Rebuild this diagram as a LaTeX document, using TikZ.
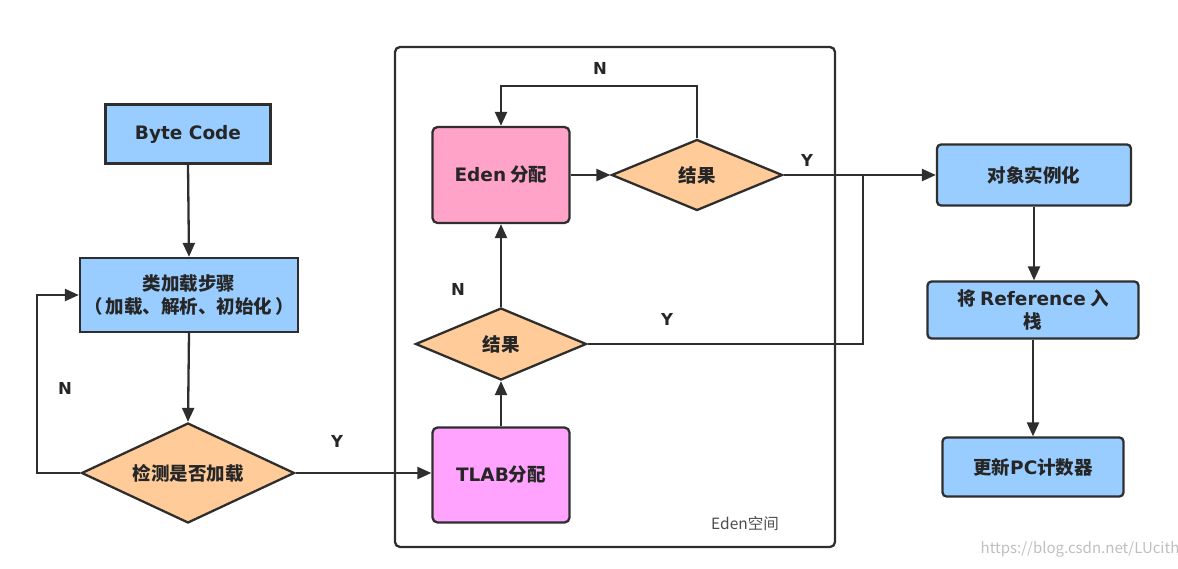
\documentclass[tikz,border=0pt]{standalone}
\usepackage{fontspec}
\setmainfont{Noto Sans CJK SC}
\newfontfamily\latfont{DejaVu Sans}
\newcommand\lat[1]{{\latfont\bfseries\fontsize{18.5}{23}\selectfont #1}}
\usetikzlibrary{shapes.geometric,arrows.meta}
\definecolor{bluebox}{HTML}{99CCFF}
\definecolor{orangebox}{HTML}{FFCC99}
\definecolor{edenpink}{HTML}{FFA3C8}
\definecolor{tlabpink}{HTML}{FFA3FF}
\definecolor{edgecol}{HTML}{2E2E2E}
\tikzset{
  base/.style={draw=edgecol, line width=2.3pt, font=\fontsize{18.5}{23}\selectfont\bfseries, text=black!85, align=center, inner sep=0pt},
  sqbox/.style={base, fill=bluebox},
  rbox/.style={base, fill=bluebox, rounded corners=4pt},
  edenbox/.style={base, fill=edenpink, rounded corners=5pt},
  tlabbox/.style={base, fill=tlabpink, rounded corners=5pt},
  dia/.style={base, fill=orangebox, shape=diamond},
  arr/.style={draw=edgecol, line width=2.3pt, -{Triangle[length=14pt,width=12pt]}},
  ln/.style={draw=edgecol, line width=2.3pt},
  lab/.style={font=\latfont\fontsize{16.5}{20}\selectfont\bfseries, text=black!85, inner sep=0pt},
}
\begin{document}
\begin{tikzpicture}[x=1pt,y=-1pt]
\useasboundingbox (0,0) rectangle (1178,568);
% Eden frame
\node[draw=edgecol, line width=2.3pt, rounded corners=5pt, minimum width=440pt, minimum height=500pt, inner sep=0pt] (frame) at (615,297) {};
\node[font=\fontsize{15.5}{18}\selectfont, text=black!70, inner sep=0pt] (edenlab) at (745,524) {Eden空间};
% left column
\node[sqbox, minimum width=165pt, minimum height=59pt] (bc) at (188,134) {\lat{Byte Code}};
\node[sqbox, minimum width=218pt, minimum height=74pt] (cls) at (189,295) {类加载步骤\\（\hspace{3pt}加载、解析、初始化\hspace{3pt}）};
\node[dia, shape aspect=2.13, minimum width=213pt, minimum height=100pt] (chk) at (188,473) {检测是否加载};
% Eden column
\node[edenbox, minimum width=137pt, minimum height=96pt] (eden) at (501,175) {\lat{Eden} 分配};
\node[dia, shape aspect=2.4, minimum width=171pt, minimum height=71pt] (r1) at (697,175) {结果};
\node[dia, shape aspect=2.4, minimum width=171pt, minimum height=72pt] (r2) at (501,344) {结果};
\node[tlabbox, minimum width=137pt, minimum height=95pt] (tlab) at (501,475) {\lat{TLAB}分配};
% right column
\node[rbox, minimum width=194pt, minimum height=61pt] (obj) at (1034,175) {对象实例化};
\node[rbox, minimum width=211pt, minimum height=57pt] (ref) at (1033,310) {将 \lat{Reference} 入\\栈};
\node[rbox, minimum width=181pt, minimum height=59pt] (pc) at (1033,467) {更新\lat{PC}计数器};
% coordinates
\coordinate (nl) at (37,473);
\coordinate (nt) at (697,86);
\coordinate (j) at (863,175);
% connectors
\draw[arr] (bc.south) -- (cls.north);
\draw[arr] (cls.south) -- (chk.north);
\draw[arr] (chk.west) -- (nl) |- (cls.west);
\draw[arr] (chk.east) -- (tlab.west |- chk.east);
\draw[arr] (tlab.north) -- (r2.south);
\draw[arr] (r2.north) -- (eden.south);
\draw[arr] (eden.east) -- (r1.west);
\draw[arr] (r1.north) -- (nt) -| (eden.north);
\draw[arr] (r1.east) -- (obj.west);
\draw[ln] (r2.east) -| (j);
\draw[arr] (obj.south) -- (obj.south |- ref.north);
\draw[arr] (ref.south) -- (ref.south |- pc.north);
% labels
\node[lab] (lN1) at (65,388) {N};
\node[lab] (lY1) at (337,441) {Y};
\node[lab] (lN2) at (600,68) {N};
\node[lab] (lY2) at (807,160) {Y};
\node[lab] (lN3) at (458,289) {N};
\node[lab] (lY3) at (667,319) {Y};
% watermark
\node[font=\fontsize{15}{18}\selectfont, text=black!25, inner sep=0pt] (wm) at (1080,549) {https://blog.csdn.net/LUcith};
\end{tikzpicture}
\end{document}
